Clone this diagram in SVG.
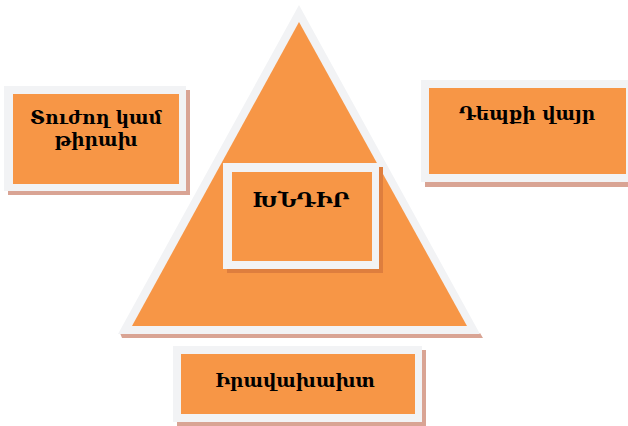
<svg xmlns="http://www.w3.org/2000/svg" width="628" height="426" viewBox="0 0 628 426">
<style>
.frame{fill:#F2F3F5}
.fill{fill:#F79646}
.shadow{fill:#D9A494}
.shadow2{fill:#DE7E3E}
.lbl{font-family:"DejaVu Serif","Noto Serif",serif;font-weight:bold;font-size:18.5px;fill:#000;text-anchor:middle}
</style>
<rect width="628" height="426" fill="#fff"/>
<g id="triangle">
<polygon class="shadow" points="120,333 480,333 483,338 122,338"/>
<polygon class="frame" points="299,5 118,334 480,334"/>
<polygon class="fill" points="299,22 132,326 467,326"/>
</g>
<g id="connectors"></g>
<g id="node-problem">
<rect class="shadow2" x="227" y="167" width="156" height="106"/>
<rect class="frame" x="223" y="163" width="156" height="106"/>
<rect class="fill" x="232" y="172" width="140" height="89"/>
<text class="lbl" x="301" y="207" style="font-size:21px">ԽՆԴԻՐ</text>
</g>
<g id="node-victim">
<rect class="shadow" x="8" y="90" width="182" height="105"/>
<rect class="frame" x="4" y="86" width="182" height="105"/>
<rect class="fill" x="13" y="94" width="166" height="90"/>
<text class="lbl" x="96" y="124">Տուժող կամ</text>
<text class="lbl" x="96" y="146">թիրախ</text>
</g>
<g id="node-place">
<rect class="shadow" x="425" y="84" width="210" height="103"/>
<rect class="frame" x="421" y="80" width="210" height="102"/>
<rect class="fill" x="429" y="88" width="197" height="86"/>
<text class="lbl" x="527" y="120">Դեպքի վայր</text>
</g>
<g id="node-offender">
<rect class="shadow" x="177" y="350" width="249" height="76"/>
<rect class="frame" x="173" y="346" width="249" height="76"/>
<rect class="fill" x="181" y="354" width="234" height="60"/>
<text class="lbl" x="295" y="387">Իրավախախտ</text>
</g>
</svg>
